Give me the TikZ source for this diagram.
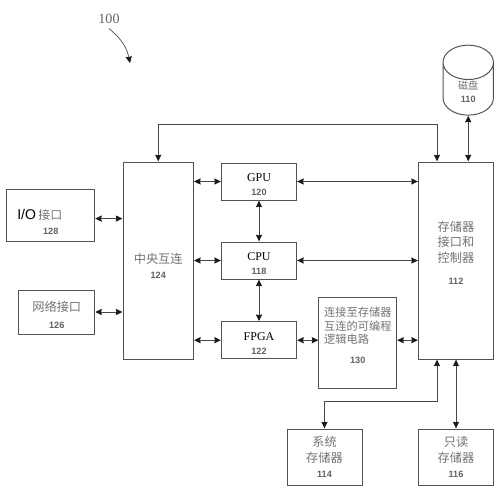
\documentclass[tikz,border=0pt]{standalone}
\usepackage{fontspec}
\setmainfont{Liberation Serif}
\setsansfont{Liberation Sans}
\newfontfamily\cjk{Noto Sans CJK SC}
\usetikzlibrary{shapes.geometric,arrows.meta}
\newcommand{\refnum}[1]{{\sffamily\bfseries\fontsize{6.5}{8}\selectfont\color{black!62}#1}}
\newcommand{\lift}[1]{\rule{0pt}{#1}}
\begin{document}
\begin{tikzpicture}[
    box/.style={
        rectangle, draw=black!68, line width=0.7pt, outer sep=0pt, inner sep=1pt,
        minimum width=1.875cm, align=center, font=\fontsize{8.5}{11}\selectfont
    },
    cjkbox/.style={box, font=\cjk\fontsize{8.7}{11}\selectfont, text=black!55},
    arrow/.style={{Stealth[length=4.6pt,width=4.4pt,inset=0.4pt,black!90]}-{Stealth[length=4.6pt,width=4.4pt,inset=0.4pt,black!90]},
        line width=0.6pt, draw=black!72, shorten >=0.5pt, shorten <=0.5pt}
]
\useasboundingbox (0,0) rectangle (12.525,12.375);

% left side
\node[box, minimum width=2.19cm, minimum height=1.3cm] (io) at (1.269,7) {\lift{17pt}{\sffamily\fontsize{10}{12}\selectfont I/O\,}{\cjk\color{black!55}接口}\hspace*{0.55cm}\\[-0.5pt]\refnum{128}};
\node[cjkbox, minimum width=1.89cm, minimum height=1.1cm] (net) at (1.419,4.575) {\lift{12pt}网络接口\\[1pt]\refnum{126}};
\node[cjkbox, minimum width=1.76cm, minimum height=4.925cm] (hub) at (3.956,5.8625) {\lift{15pt}中央互连\\[0pt]\refnum{124}};

% middle column
\node[box, minimum height=0.925cm] (gpu) at (6.475,7.8375) {\lift{10pt}GPU\\[-1pt]\refnum{120}};
\node[box, minimum height=0.925cm] (cpu) at (6.475,5.8625) {\lift{10pt}CPU\\[-1pt]\refnum{118}};
\node[box, minimum height=0.925cm] (fpga) at (6.475,3.87) {\lift{10pt}FPGA\\[-1pt]\refnum{122}};
\node[cjkbox, font=\cjk\fontsize{8}{9.6}\selectfont, minimum width=1.94cm, minimum height=2.275cm] (prog) at (8.944,3.8125) {\begin{tabular}{@{}l@{}}连接至存储器\\[0pt]互连的可编程\\[0pt]逻辑电路\end{tabular}\\[6pt]\refnum{130}\\[0.5pt]\mbox{}};

% right column
\node[cjkbox, minimum height=4.925cm] (ctrl) at (11.4,5.8625) {存储器\\接口和\\控制器\\[5pt]\refnum{112}\\[0pt]\mbox{}};
\node[cylinder, shape border rotate=90, aspect=1.7, draw=black!68, line width=0.7pt, outer sep=0pt, inner sep=0pt,
    minimum width=1.26cm, minimum height=1.75cm, text=black!55,
    font=\cjk\fontsize{7.2}{9}\selectfont] (disk) at (11.706,10.15) {\smash{\raisebox{-4.7pt}{\begin{tabular}{@{}c@{}}磁盘\\[0pt]\refnum{110}\end{tabular}}}};
\node[cjkbox, minimum height=1.4cm] (sysmem) at (8.1125,0.95) {系统\\存储器\\[0pt]\refnum{114}};
\node[cjkbox, minimum height=1.4cm] (rom) at (11.4,0.95) {只读\\存储器\\[0pt]\refnum{116}};

% reference mark
\node[font=\fontsize{10}{11}\selectfont, text=black!62] (mark) at (2.725,11.9) {100};
\coordinate (markend) at (3.25,10.8);
\draw[-{Stealth[length=4.6pt,width=4.4pt,inset=0.4pt,black!90]}, line width=0.5pt, draw=black!70] (mark.south) to[bend left=20] (markend);

% connectors
\draw[arrow] ([yshift=-0.09cm]io.east) -- ([yshift=-0.09cm]io.east -| hub.west);
\draw[arrow] (net.east) -- (net.east -| hub.west);
\draw[arrow] (gpu.west) -- (gpu.west -| hub.east);
\draw[arrow] (cpu.west) -- (cpu.west -| hub.east);
\draw[arrow] (fpga.west) -- (fpga.west -| hub.east);
\draw[arrow] (gpu.south) -- (cpu.north);
\draw[arrow] (cpu.south) -- (fpga.north);
\draw[arrow] (gpu.east) -- (gpu.east -| ctrl.west);
\draw[arrow] (cpu.east) -- (cpu.east -| ctrl.west);
\draw[arrow] (fpga.east) -- (fpga.east -| prog.west);
\draw[arrow] (fpga.east -| prog.east) -- (fpga.east -| ctrl.west);
\draw[arrow] (disk.south) -- (disk.south |- ctrl.north);
\draw[arrow] (hub.north) -- ++(0,0.95) -| ([xshift=-0.475cm]ctrl.north);
\draw[arrow] ([xshift=-0.475cm]ctrl.south) -- ++(0,-1.05) -| (sysmem.north);
\draw[arrow] (rom.north) -- (ctrl.south);

\end{tikzpicture}
\end{document}
